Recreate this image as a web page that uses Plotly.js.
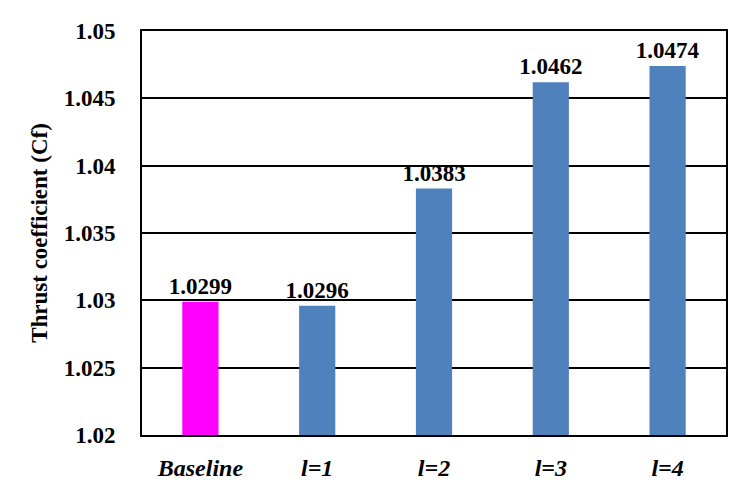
<!DOCTYPE html>
<html>
<head>
<meta charset="utf-8">
<script src="https://cdn.plot.ly/plotly-3.0.1.min.js"></script>
<style>html,body{margin:0;padding:0;background:#fff;}#chart{width:736px;height:483px;}</style>
</head>
<body>
<div id="chart"></div>
<script>
const categories = ["Baseline", "l=1", "l=2", "l=3", "l=4"];
const values = [1.0299, 1.0296, 1.0383, 1.0462, 1.0474];
const labels = ["1.0299", "1.0296", "1.0383", "1.0462", "1.0474"];
const barColors = ["#ff00ff", "#4f81bd", "#4f81bd", "#4f81bd", "#4f81bd"];
const yTicks = [1.02, 1.025, 1.03, 1.035, 1.04, 1.045, 1.05];
const yTickText = ["1.02", "1.025", "1.03", "1.035", "1.04", "1.045", "1.05"];

const serif = "Liberation Serif, Times New Roman, serif";

const trace = {
  type: "bar",
  x: categories,
  y: values,
  text: labels,
  textposition: "outside",
  constraintext: "none",
  cliponaxis: false,
  textfont: {family: serif, size: 23, color: "#000", weight: "bold"},
  marker: {color: barColors, line: {width: 0}},
  width: 0.31,
  hoverinfo: "none"
};

const layout = {
  width: 736, height: 483,
  margin: {l: 142, r: 10, t: 31, b: 48},
  paper_bgcolor: "#fff", plot_bgcolor: "#fff",
  showlegend: false,
  xaxis: {
    type: "category",
    showgrid: false,
    showline: true, linecolor: "#000", linewidth: 2, mirror: true,
    ticks: "", ticklabelstandoff: 10,
    tickfont: {family: serif, size: 24, color: "#000", weight: "bold", style: "italic"}
  },
  yaxis: {
    range: [1.02, 1.05],
    tickvals: yTicks, ticktext: yTickText,
    showgrid: true, gridcolor: "#000", gridwidth: 2,
    showline: true, linecolor: "#000", linewidth: 2, mirror: true,
    zeroline: false,
    ticks: "", ticklabelstandoff: 20,
    tickfont: {family: serif, size: 23, color: "#000", weight: "bold"},
    title: {text: "Thrust coefficient (Cf)", standoff: 10,
      font: {family: serif, size: 23, color: "#000", weight: "bold"}}
  }
};

Plotly.newPlot("chart", [trace], layout, {staticPlot: true, displayModeBar: false});
</script>
</body>
</html>
